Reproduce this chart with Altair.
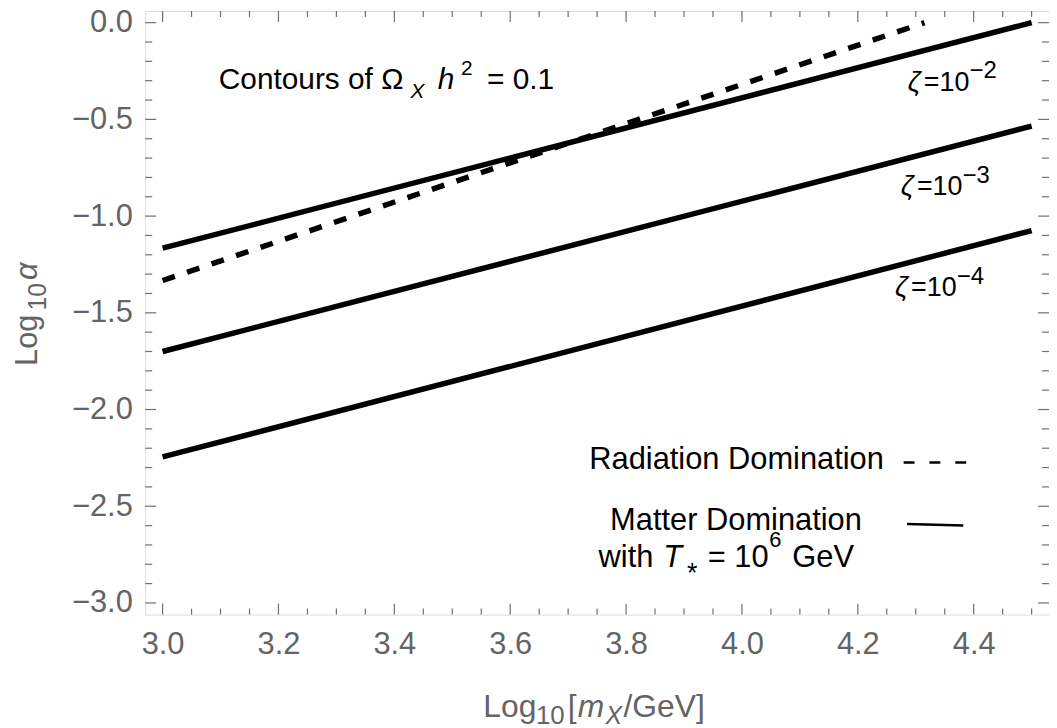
import altair as alt
import pandas as pd

# ---------------- values ----------------
mx = [3.0, 4.5]                       # Log10[m_X/GeV] at the ends of the matter-domination contours
alpha_zeta2 = [-1.166, 0.0]           # zeta = 1e-2
alpha_zeta3 = [-1.700, -0.535]        # zeta = 1e-3
alpha_zeta4 = [-2.245, -1.075]        # zeta = 1e-4
mx_rad = [3.0, 4.315]                 # radiation domination contour
alpha_rad = [-1.333, 0.0]

x_major = [3.0, 3.2, 3.4, 3.6, 3.8, 4.0, 4.2, 4.4]
y_major = [-3.0, -2.5, -2.0, -1.5, -1.0, -0.5, 0.0]
x_minor = [round(3.0 + 0.05 * i, 2) for i in range(31) if i % 4]
y_minor = [round(-3.0 + 0.1 * i, 1) for i in range(31) if i % 5]

# legend glyph segments (data coordinates)
leg_dash_x = [4.279, 4.389]
leg_dash_y = [-2.274, -2.274]
leg_solid_x = [4.285, 4.382]
leg_solid_y = [-2.592, -2.600]

# text pieces: text, x, y, size, italic, angle, color
BLACK = "#000000"
GRAY = "#646464"
pieces = [
    ("Contours of \u03a9", 3.097, -0.345, 30, False, 0, BLACK),
    ("X", 3.428, -0.387, 21, True, 0, BLACK),
    ("h", 3.475, -0.345, 30, True, 0, BLACK),
    ("2", 3.515, -0.269, 21, False, 0, BLACK),
    ("= 0.1", 3.560, -0.345, 30, False, 0, BLACK),
    # zeta labels
    ("\u03b6", 4.286, -0.351, 28, True, 0, BLACK),
    ("=10", 4.314, -0.351, 27, False, 0, BLACK),
    ("\u22122", 4.393, -0.288, 24, False, 0, BLACK),
    ("\u03b6", 4.274, -0.891, 28, True, 0, BLACK),
    ("=10", 4.302, -0.891, 27, False, 0, BLACK),
    ("\u22123", 4.381, -0.828, 24, False, 0, BLACK),
    ("\u03b6", 4.264, -1.415, 28, True, 0, BLACK),
    ("=10", 4.292, -1.415, 27, False, 0, BLACK),
    ("\u22124", 4.371, -1.352, 24, False, 0, BLACK),
    # legend second line
    ("with", 3.7526, -2.813, 31, False, 0, BLACK),
    ("T", 3.864, -2.813, 31, True, 0, BLACK),
    ("*", 3.905, -2.892, 27, False, 0, BLACK),
    ("= 10", 3.941, -2.813, 31, False, 0, BLACK),
    ("6", 4.047, -2.712, 22, False, 0, BLACK),
    ("GeV", 4.087, -2.813, 31, False, 0, BLACK),
    # x-axis title
    ("Log", 3.5535, -3.589, 32, False, 0, GRAY),
    ("10", 3.6444, -3.625, 26, False, 0, GRAY),
    ("[", 3.6993, -3.589, 32, False, 0, GRAY),
    ("m", 3.7165, -3.589, 32, True, 0, GRAY),
    ("X", 3.7645, -3.625, 25, True, 0, GRAY),
    ("/GeV]", 3.7955, -3.589, 32, False, 0, GRAY),
    # y-axis title (rotated)
    ("Log", 2.783, -1.775, 31, False, 270, GRAY),
    ("10", 2.798, -1.488, 25, False, 270, GRAY),
    ("\u03b1", 2.783, -1.330, 31, True, 270, GRAY),
]
right_pieces = [
    ("Radiation Domination", 4.245, -2.310, 31),
    ("Matter Domination", 4.207, -2.623, 31),
]

# ---------------- tables ----------------
lines = pd.DataFrame({
    "series": ["z2"] * 2 + ["z3"] * 2 + ["z4"] * 2,
    "x": mx * 3,
    "y": alpha_zeta2 + alpha_zeta3 + alpha_zeta4,
})
rad = pd.DataFrame({"x": mx_rad, "y": alpha_rad})
leg_dash = pd.DataFrame({"x": leg_dash_x, "y": leg_dash_y})
leg_solid = pd.DataFrame({"x": leg_solid_x, "y": leg_solid_y})
txt = pd.DataFrame(pieces, columns=["t", "x", "y", "size", "italic", "angle", "color"])
txt_r = pd.DataFrame(right_pieces, columns=["t", "x", "y", "size"])

W, H = 909, 607
FONT = "Liberation Sans"
FRAME = "#707070"
xs = alt.Scale(domain=[2.97, 4.53], nice=False, zero=False)
ys = alt.Scale(domain=[-3.06, 0.06], nice=False, zero=False)

xaxis = alt.Axis(values=x_major, format=".1f", ticks=False, domain=False, grid=False,
                 labelFontSize=31, labelColor=GRAY, labelFont=FONT, labelPadding=15,
                 labelFlush=False, labelOverlap=False, title=None)
yaxis = alt.Axis(values=y_major, format=".1f", ticks=False, domain=False, grid=False,
                 labelFontSize=31, labelColor=GRAY, labelFont=FONT, labelPadding=13,
                 labelFlush=False, labelOverlap=False, title=None)


def X(field="x"):
    return alt.X(f"{field}:Q", scale=xs, axis=xaxis)


def Y(field="y"):
    return alt.Y(f"{field}:Q", scale=ys, axis=yaxis)


solid = alt.Chart(lines).mark_line(color="black", strokeWidth=5.5).encode(
    x=X(), y=Y(), detail="series:N",
)
dashed = alt.Chart(rad).mark_line(color="black", strokeWidth=5.5, strokeDash=[13, 13]).encode(
    x=X(), y=Y(),
)
lg_dash = alt.Chart(leg_dash).mark_line(color="black", strokeWidth=2.5, strokeDash=[11, 15]).encode(
    x=X(), y=Y(),
)
lg_solid = alt.Chart(leg_solid).mark_line(color="black", strokeWidth=2.5).encode(
    x=X(), y=Y(),
)


def xticks(vals, length):
    d = pd.DataFrame({"x": vals})
    bot = alt.Chart(d).mark_rule(color=FRAME, strokeWidth=1.2).encode(
        x=X(), y=alt.value(H), y2=alt.value(H - length))
    top = alt.Chart(d).mark_rule(color=FRAME, strokeWidth=1.2).encode(
        x=X(), y=alt.value(0), y2=alt.value(length))
    return [bot, top]


def yticks(vals, length):
    d = pd.DataFrame({"y": vals})
    left = alt.Chart(d).mark_rule(color=FRAME, strokeWidth=1.2).encode(
        y=Y(), x=alt.value(0), x2=alt.value(length))
    right = alt.Chart(d).mark_rule(color=FRAME, strokeWidth=1.2).encode(
        y=Y(), x=alt.value(W), x2=alt.value(W - length))
    return [left, right]


def text_layer(df, italic):
    return alt.Chart(df).mark_text(
        font=FONT, align="left", baseline="alphabetic",
        fontStyle="italic" if italic else "normal",
    ).encode(
        x=X(), y=Y(),
        text="t:N",
        size=alt.Size("size:Q", scale=None, legend=None),
        color=alt.Color("color:N", scale=None, legend=None),
        angle=alt.Angle("angle:Q", scale=None, legend=None),
    )


txt_norm = text_layer(txt[~txt["italic"]], False)
txt_ital = text_layer(txt[txt["italic"]], True)
txt_right = alt.Chart(txt_r).mark_text(font=FONT, align="right", baseline="alphabetic",
                                       color="black").encode(
    x=X(), y=Y(),
    text="t:N",
    size=alt.Size("size:Q", scale=None, legend=None),
)

layers = [solid, dashed, lg_dash, lg_solid]
layers += xticks(x_major, 11) + xticks(x_minor, 6)
layers += yticks(y_major, 11) + yticks(y_minor, 7)
layers += [txt_norm, txt_ital, txt_right]

chart = alt.layer(*layers).properties(
    width=W, height=H,
    autosize=alt.AutoSizeParams(type="none"),
    padding={"left": 138, "top": 1, "right": 0, "bottom": 111},
).configure_view(stroke=FRAME, strokeWidth=1.3).configure(background="white")

chart.save("out.html", embed_options={"renderer": "svg", "actions": False})
